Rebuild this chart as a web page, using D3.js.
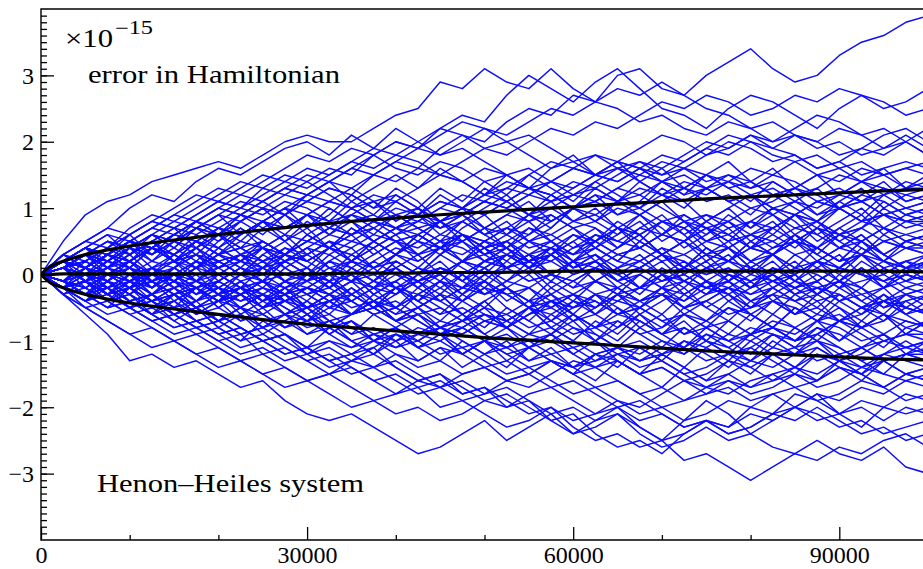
<!DOCTYPE html>
<html>
<head>
<meta charset="utf-8">
<script src="https://cdn.jsdelivr.net/npm/d3@7"></script>
<style>
  body { margin: 0; background: #fff; }
  svg { display: block; }
</style>
</head>
<body>
<script>
// sample times of every run
var times = [0,2500,5000,7500,10000,12500,15000,17500,20000,22500,25000,27500,30000,32500,35000,37500,40000,42500,45000,47500,
             50000,52500,55000,57500,60000,62500,65000,67500,70000,72500,75000,77500,80000,82500,85000,87500,90000,92500,95000,97500,100000];

// error in Hamiltonian of each run, in units of 1e-16
var runs = [
  [0,5,9,11,12,14,15,16,17,16,18,20,21,20,20,22,24,25,29,28,31,29,28,31,28,26,30,31,28,27,30,32,34,31,29,30,33,35,36,38,39],
  [0,2,4,3,6,8,7,9,11,10,13,12,14,16,15,18,20,19,22,24,23,27,30,28,26,29,31,28,25,24,22,25,27,26,24,22,25,27,26,24,25],
  [0,-3,-6,-9,-13,-12,-14,-13,-15,-17,-16,-19,-21,-22,-21,-23,-25,-27,-26,-24,-22,-25,-23,-21,-24,-22,-20,-23,-25,-22,-19,-21,-24,-22,-20,-18,-21,-23,-20,-18,-19],
  [0,-1,-3,-2,-5,-7,-6,-8,-10,-9,-12,-11,-13,-15,-14,-16,-18,-17,-20,-19,-21,-23,-22,-20,-23,-25,-24,-26,-25,-28,-27,-29,-31,-29,-27,-28,-26,-27,-25,-24,-26],
  [0,1,-1,-3,-2,-4,-6,-5,-7,-9,-8,-10,-12,-11,-13,-12,-14,-16,-15,-17,-19,-18,-20,-22,-24,-23,-21,-24,-26,-25,-23,-25,-24,-26,-27,-25,-27,-28,-26,-29,-30],
  [0,-2,-1,-4,-3,-5,-4,-7,-9,-8,-10,-9,-12,-14,-13,-11,-14,-16,-15,-18,-17,-20,-19,-22,-21,-24,-26,-25,-27,-24,-22,-23,-20,-21,-18,-19,-21,-20,-22,-20,-21],
  [0,2,1,3,5,4,6,8,7,9,8,10,12,11,13,15,14,16,15,17,19,18,20,22,21,23,22,24,26,25,27,26,24,25,27,26,28,27,25,26,28],
  [0,3,5,7,10,12,11,14,16,15,17,19,20,18,21,19,22,20,18,19,17,15,16,14,12,13,11,12,10,8,9,7,8,10,9,11,10,8,9,7,8],
  [0,1,3,2,4,3,5,7,6,8,10,9,11,13,12,15,17,16,19,21,20,23,25,24,27,26,28,27,29,27,25,24,22,23,21,20,22,21,19,20,18],
  [0,-2,-5,-7,-9,-11,-10,-12,-14,-13,-15,-17,-16,-18,-20,-19,-21,-20,-22,-21,-19,-20,-18,-17,-19,-21,-20,-22,-21,-23,-22,-24,-23,-21,-22,-20,-22,-24,-23,-25,-24],
  [0,1,-1,0,2,4,3,5,4,6,8,7,9,11,10,12,11,13,15,14,12,13,15,17,16,18,17,19,21,20,18,19,21,20,22,24,23,21,22,20,22],
  [0,3,5,4,7,9,8,10,12,14,13,15,14,12,10,11,9,10,8,9,11,10,12,14,13,15,14,16,15,17,19,18,20,19,21,20,18,19,21,22,20],
  [0,-2,-1,-3,-2,0,-1,1,3,2,4,3,5,7,6,8,10,9,11,10,12,14,13,11,12,14,16,15,17,16,18,20,19,17,18,16,17,19,18,20,18],
  [0,2,4,6,5,7,9,11,13,12,14,16,18,17,19,18,16,15,17,16,14,15,13,14,16,15,17,16,14,15,13,14,16,15,17,18,16,17,15,16,17],
  [0,1,0,2,1,-1,0,-2,-1,1,0,2,4,3,5,4,6,8,7,9,11,10,12,11,13,15,14,16,18,17,19,21,20,18,17,15,16,14,15,16,15],
  [0,-1,1,3,2,4,6,5,3,4,2,3,5,4,6,8,7,9,8,10,9,11,13,12,10,11,13,12,14,16,15,13,14,12,13,15,14,16,15,13,14],
  [0,2,1,3,5,7,6,8,10,9,11,13,15,14,16,18,20,19,21,23,22,20,21,19,17,18,16,17,15,16,14,15,13,14,12,13,15,14,12,13,13],
  [0,-2,-4,-3,-5,-4,-6,-5,-3,-4,-2,-3,-1,0,-1,1,3,2,4,6,5,7,6,8,10,9,11,10,12,11,13,15,14,12,13,11,12,14,13,11,12],
  [0,2,3,5,4,6,5,7,9,8,10,9,11,10,8,9,7,8,10,12,11,13,12,14,16,15,17,16,14,13,15,14,12,13,11,10,12,11,13,12,11],
  [0,1,3,2,0,1,-1,-3,-2,-4,-3,-1,-2,0,2,1,3,5,4,6,5,7,9,8,10,12,11,13,12,14,13,11,12,10,9,11,10,12,11,9,10],
  [0,3,2,4,6,8,7,9,11,10,12,14,13,15,17,16,18,17,15,14,16,15,13,12,10,11,9,10,8,9,7,8,6,7,9,8,10,11,9,8,9],
  [0,-1,-2,0,-1,1,0,-2,-1,-3,-2,-4,-3,-5,-4,-2,-3,-1,0,2,1,3,2,4,3,5,7,6,8,7,9,8,10,9,7,8,6,7,9,8,8],
  [0,2,4,3,5,4,2,3,1,2,4,3,5,7,6,8,7,9,11,10,12,11,9,10,8,9,7,6,8,7,5,6,8,7,9,8,6,7,5,6,7],
  [0,-2,-1,-3,-5,-4,-6,-8,-7,-9,-8,-6,-7,-5,-6,-4,-2,-3,-1,-2,0,1,-1,0,2,1,3,2,4,3,5,4,6,5,7,6,4,5,7,5,6],
  [0,1,3,5,4,6,8,7,9,11,10,12,11,13,12,10,11,9,7,8,6,7,5,6,4,5,3,4,6,5,7,6,4,5,3,4,6,5,7,6,5],
  [0,-1,0,-2,-1,1,2,0,1,3,2,4,3,1,2,0,1,-1,0,2,1,3,5,4,6,5,3,4,2,3,1,2,4,3,5,4,2,3,5,4,4],
  [0,2,1,3,2,4,6,5,7,6,8,10,9,11,10,8,9,7,8,6,4,5,3,4,2,3,1,2,0,1,3,2,4,3,1,2,4,3,5,4,3],
  [0,-2,-3,-1,-2,-4,-3,-5,-7,-6,-8,-7,-9,-8,-10,-9,-11,-10,-8,-9,-7,-8,-6,-4,-5,-3,-4,-2,-3,-1,-2,0,-1,1,0,2,1,3,2,1,2],
  [0,1,2,0,1,-1,0,2,1,3,4,2,3,5,4,6,5,3,4,2,3,1,2,0,-1,1,0,-2,-1,1,0,2,1,-1,0,2,1,0,2,1,1],
  [0,2,4,3,5,7,9,8,10,12,11,13,12,14,13,11,12,10,8,9,7,6,4,5,3,4,2,1,3,2,0,1,-1,0,-2,-1,1,0,-1,1,0],
  [0,-1,-3,-2,-4,-3,-1,-2,0,2,1,3,2,4,3,5,7,6,8,10,9,11,13,12,14,13,15,17,16,18,20,19,21,19,18,16,17,15,16,17,16],
  [0,3,5,7,6,8,10,12,11,13,15,14,16,15,17,19,18,20,22,21,19,20,18,16,17,15,16,14,12,13,11,12,10,11,13,12,10,11,9,10,11],
  [0,1,-1,-2,0,-1,-3,-2,-4,-3,-5,-4,-2,-3,-1,-2,0,-1,1,0,2,1,3,2,4,6,5,7,6,8,7,5,6,4,5,7,6,8,7,5,6],
  [0,-2,0,1,-1,0,2,1,3,5,4,6,5,7,9,8,6,7,5,6,4,5,7,6,8,7,5,4,6,5,3,4,2,3,5,4,2,3,1,2,3],
  [0,2,1,3,5,4,6,8,10,9,11,13,12,14,16,15,17,19,18,20,22,21,23,25,24,26,25,23,24,22,21,23,22,20,21,19,20,18,19,21,19],
  [0,-1,1,0,2,4,3,1,2,0,1,-1,0,2,1,3,5,4,6,5,7,9,8,10,12,11,13,15,14,12,13,11,12,10,11,9,10,8,9,10,9],
  [0,1,3,2,4,3,5,4,2,3,1,2,4,6,5,7,9,8,10,9,11,10,8,9,7,8,10,9,11,13,12,14,13,15,14,12,13,11,12,14,13],
  [0,-1,-3,-2,-4,-6,-5,-7,-6,-8,-10,-9,-11,-13,-12,-14,-13,-15,-17,-16,-18,-17,-19,-21,-20,-22,-21,-23,-25,-24,-22,-23,-21,-22,-20,-21,-23,-22,-24,-23,-22],
  [0,-3,-5,-4,-6,-8,-10,-9,-11,-13,-12,-14,-16,-15,-17,-19,-18,-16,-17,-15,-14,-16,-15,-13,-14,-12,-13,-15,-14,-16,-18,-17,-19,-18,-20,-22,-21,-19,-20,-21,-20],
  [0,1,0,2,1,-1,0,-2,-4,-3,-5,-4,-6,-8,-7,-9,-8,-10,-12,-11,-13,-15,-14,-16,-18,-17,-19,-21,-20,-22,-21,-19,-20,-18,-17,-19,-18,-16,-17,-19,-18],
  [0,-2,-4,-6,-5,-7,-9,-8,-10,-12,-11,-13,-12,-10,-11,-9,-10,-8,-9,-11,-10,-12,-14,-13,-15,-17,-16,-18,-20,-19,-17,-18,-16,-15,-17,-16,-14,-15,-17,-15,-16],
  [0,2,1,3,2,0,1,-1,0,-2,-1,-3,-5,-4,-6,-5,-7,-9,-8,-10,-12,-11,-13,-12,-14,-13,-11,-12,-10,-11,-13,-12,-14,-16,-15,-17,-16,-14,-15,-16,-15],
  [0,-1,-2,-4,-3,-5,-4,-6,-5,-7,-6,-8,-7,-9,-11,-10,-12,-14,-13,-15,-14,-16,-15,-13,-14,-12,-11,-13,-12,-14,-16,-15,-17,-16,-14,-15,-13,-14,-12,-13,-14],
  [0,-2,-1,-3,-5,-7,-6,-8,-7,-5,-6,-4,-5,-3,-4,-6,-5,-7,-9,-8,-10,-9,-11,-10,-12,-14,-13,-15,-14,-16,-15,-13,-14,-12,-11,-13,-12,-14,-13,-12,-13],
  [0,1,-1,0,-2,-1,-3,-2,-4,-3,-1,-2,0,-1,-3,-5,-4,-6,-5,-7,-6,-8,-10,-9,-11,-10,-12,-11,-13,-15,-14,-12,-13,-11,-12,-10,-11,-13,-12,-11,-12],
  [0,-3,-5,-7,-9,-8,-10,-12,-11,-13,-15,-14,-16,-15,-13,-14,-12,-13,-11,-12,-10,-11,-9,-10,-8,-9,-11,-10,-12,-11,-9,-10,-8,-9,-11,-10,-12,-11,-13,-12,-11],
  [0,2,3,1,2,0,-1,1,0,-2,-1,-3,-2,-4,-3,-1,-2,-4,-6,-5,-7,-6,-8,-7,-9,-8,-6,-7,-9,-8,-10,-12,-11,-9,-10,-8,-9,-11,-10,-9,-10],
  [0,-1,-3,-5,-4,-6,-8,-7,-9,-8,-10,-12,-11,-13,-15,-14,-16,-18,-17,-19,-18,-16,-17,-15,-13,-14,-12,-13,-11,-12,-10,-11,-9,-8,-10,-9,-7,-8,-10,-9,-9],
  [0,1,3,2,4,6,5,7,6,4,5,3,2,4,3,1,2,0,1,-1,-3,-2,-4,-3,-5,-4,-6,-5,-7,-6,-8,-7,-9,-8,-10,-9,-7,-8,-6,-7,-8],
  [0,-2,-1,-3,-2,-4,-3,-1,-2,0,-1,-3,-2,-4,-6,-5,-7,-6,-8,-7,-5,-6,-4,-5,-3,-4,-6,-5,-7,-9,-8,-10,-9,-7,-8,-6,-7,-5,-6,-8,-7],
  [0,-1,0,-2,-4,-3,-5,-7,-6,-8,-10,-9,-11,-10,-12,-11,-9,-10,-8,-9,-7,-8,-6,-5,-7,-6,-4,-5,-3,-4,-2,-3,-5,-4,-6,-5,-7,-6,-4,-5,-6],
  [0,2,1,3,5,4,6,5,3,4,2,0,1,-1,0,-2,-1,1,0,-2,-1,-3,-2,-4,-3,-1,-2,-4,-3,-5,-4,-6,-5,-3,-4,-2,-3,-5,-4,-6,-5],
  [0,-2,-4,-3,-1,-2,0,-1,-3,-2,-4,-6,-5,-7,-6,-4,-5,-3,-4,-2,-3,-1,-2,0,-1,-3,-2,-4,-3,-5,-4,-2,-3,-1,-2,-4,-3,-5,-4,-3,-4],
  [0,1,2,4,3,5,7,6,8,10,9,11,10,8,9,7,5,6,4,5,3,4,2,3,1,2,0,1,-1,0,-2,-1,-3,-2,-4,-3,-1,-2,-4,-2,-3],
  [0,-1,1,0,-2,-1,-3,-2,-4,-5,-3,-4,-2,-3,-1,0,-2,-1,1,0,2,1,-1,0,-2,-1,-3,-2,0,-1,1,0,-2,-1,-3,-2,-1,-3,-2,-1,-2],
  [0,-2,-3,-5,-4,-6,-8,-7,-9,-11,-10,-12,-11,-13,-12,-10,-11,-9,-10,-8,-6,-7,-5,-6,-4,-5,-3,-4,-2,-3,-1,-2,0,-1,1,0,-2,-1,0,-2,-1],
  [0,1,-1,-3,-2,-4,-3,-5,-4,-2,-3,-5,-7,-6,-8,-10,-9,-11,-10,-12,-14,-13,-15,-17,-16,-18,-20,-19,-21,-23,-22,-24,-23,-21,-20,-18,-19,-17,-18,-16,-17],
  [0,-2,-1,1,0,2,1,3,2,0,1,-1,-3,-2,-4,-6,-5,-7,-9,-8,-10,-12,-11,-13,-15,-14,-16,-18,-17,-19,-18,-16,-17,-15,-14,-12,-13,-11,-13,-12,-12],
  [0,2,4,3,5,4,2,3,1,-1,0,-2,-1,-3,-5,-4,-6,-5,-3,-4,-2,-3,-5,-4,-6,-8,-7,-9,-8,-6,-7,-5,-6,-4,-5,-7,-6,-8,-7,-5,-6],
  [0,-1,-3,-2,-4,-3,-5,-4,-2,-3,-1,0,-1,1,0,2,4,3,5,4,2,3,1,2,0,1,-1,0,-2,-1,-3,-2,-4,-3,-1,-2,-4,-3,-5,-4,-3],
  [0,-3,-2,-4,-6,-5,-7,-9,-8,-10,-9,-11,-13,-12,-14,-16,-15,-17,-16,-18,-17,-19,-21,-20,-22,-21,-19,-20,-18,-16,-17,-15,-13,-14,-12,-11,-13,-12,-10,-11,-10],
  [0,1,0,-1,1,0,-2,-1,-3,-2,-4,-3,-5,-4,-6,-5,-7,-6,-8,-7,-9,-11,-10,-12,-11,-13,-12,-14,-13,-15,-17,-16,-18,-17,-15,-16,-14,-15,-13,-15,-14],
  [0,-1,-2,0,-1,-3,-2,-4,-3,-5,-7,-6,-8,-7,-9,-8,-10,-9,-7,-8,-6,-7,-9,-8,-10,-12,-11,-13,-12,-10,-11,-9,-10,-8,-9,-7,-8,-10,-9,-7,-8],
  [0,2,1,3,2,4,3,5,7,6,8,7,9,8,6,7,5,6,4,3,5,4,2,3,1,2,0,1,-1,0,-2,-1,1,0,-2,-1,1,0,-1,0,-1],
  [0,2,0,3,1,4,2,5,3,1,4,2,0,3,1,-1,2,0,3,5,2,4,1,3,6,4,2,5,3,1,4,2,5,3,6,4,2,5,3,1,3],
  [0,-2,1,-1,-3,0,-2,-4,-1,-3,-5,-2,-4,-6,-3,-5,-2,-4,-1,-3,0,-2,-4,-1,-3,-5,-2,-4,-6,-3,-5,-7,-4,-6,-3,-5,-2,-4,-6,-3,-5],
  [0,3,1,4,6,3,5,8,6,9,7,5,8,6,9,11,8,10,7,9,6,8,5,7,10,8,11,9,6,8,5,7,4,6,9,7,10,8,11,9,8],
  [0,-1,-3,0,-2,1,-1,2,0,-2,1,-1,-3,-1,-4,-2,-5,-3,-1,-4,-2,-5,-7,-4,-6,-3,-5,-8,-6,-9,-7,-4,-6,-8,-5,-7,-10,-8,-6,-9,-7],
  [0,1,-2,0,2,-1,1,3,0,2,4,1,3,5,2,4,6,3,5,2,4,1,3,0,2,-1,1,3,0,2,-1,1,-2,0,2,-1,1,3,0,2,0],
  [0,-3,-1,-4,-2,-5,-3,-6,-4,-7,-5,-8,-6,-9,-7,-10,-8,-11,-9,-12,-10,-8,-11,-9,-7,-10,-8,-6,-9,-7,-10,-12,-9,-11,-8,-10,-13,-11,-9,-12,-10],
  [0,2,4,1,3,5,2,4,7,5,8,6,9,7,10,8,11,9,12,10,13,11,9,12,10,13,11,14,12,10,13,11,9,12,10,8,11,9,12,10,11],
  [0,-1,1,-2,0,-3,-1,1,-2,0,2,-1,1,-2,0,-3,-1,-4,-2,0,-3,-1,1,-2,0,2,-1,1,3,0,2,-1,1,-2,0,-3,-1,1,-2,0,-1],
  [0,2,-1,1,3,5,2,4,1,3,0,2,4,1,-1,2,0,-2,1,-1,2,4,1,3,5,7,4,6,3,5,8,6,4,7,5,3,6,4,2,5,4],
  [0,-2,-4,-1,-3,-6,-4,-2,-5,-3,-1,-4,-2,0,-3,-1,1,-2,0,-3,-5,-2,-4,-7,-5,-3,-6,-4,-2,-5,-3,-1,-4,-2,0,-3,-1,-4,-2,-5,-3],
  [0,1,3,5,3,6,4,7,9,6,8,10,7,9,12,10,13,11,8,10,7,9,11,8,10,12,9,11,14,12,15,13,11,14,12,9,11,13,10,12,13],
  [0,-1,-3,-5,-2,-4,-7,-5,-8,-10,-7,-9,-11,-8,-10,-12,-9,-11,-13,-10,-12,-14,-11,-13,-15,-12,-14,-11,-13,-10,-12,-14,-11,-13,-15,-12,-14,-16,-13,-15,-14],
  [0,2,1,-1,1,-2,0,2,-1,1,-1,-3,0,-2,1,-1,2,0,3,1,-1,2,0,3,5,2,4,6,3,5,7,4,6,8,5,7,4,6,3,5,6],
  [0,-2,0,-3,-1,-4,-2,-5,-3,-6,-4,-2,-5,-3,-1,-4,-2,-5,-7,-4,-6,-8,-5,-7,-4,-6,-3,-5,-2,-4,-1,-3,-5,-2,-4,-6,-3,-5,-7,-4,-6],
  [0,3,1,3,5,2,4,2,5,7,4,6,3,5,2,4,1,3,0,2,4,1,3,5,2,4,7,5,8,6,3,5,2,4,6,3,1,4,2,0,2],
  [0,-1,2,0,-2,1,-1,-3,0,-2,-4,-1,-3,-5,-2,-4,-6,-3,-5,-7,-4,-2,-5,-3,-6,-8,-5,-7,-9,-6,-8,-5,-7,-4,-6,-3,-5,-7,-4,-6,-8],
  [0,1,-1,2,4,1,3,6,4,7,5,3,6,4,2,5,3,6,8,5,7,4,6,9,7,5,8,6,3,5,2,4,1,3,5,2,4,6,3,5,4],
  [0,-2,-1,-3,0,-2,1,-1,2,0,3,1,-1,2,0,-2,1,-1,-3,0,-2,1,3,0,2,-1,1,-2,0,-3,-1,-4,-2,0,-3,-1,-4,-2,-5,-3,-2],
  [0,2,4,6,3,5,7,4,6,8,10,7,9,6,8,5,7,9,6,8,10,12,9,11,8,10,7,9,11,8,6,9,7,10,8,5,7,9,6,8,7],
  [0,-1,-3,-1,-4,-6,-3,-5,-8,-6,-9,-7,-5,-8,-6,-4,-7,-5,-3,-6,-4,-7,-9,-6,-8,-10,-7,-9,-11,-8,-10,-7,-9,-6,-8,-10,-7,-9,-11,-8,-9],
  [0,1,-1,1,3,0,2,-1,1,3,1,4,2,0,3,1,-2,0,2,-1,1,-2,0,-3,-1,1,-2,0,2,-1,1,-1,2,0,3,1,-1,2,0,2,1],
  [0,-2,1,3,1,4,2,5,3,6,8,5,7,4,6,3,5,2,4,6,3,5,2,4,1,3,0,2,4,1,3,0,-2,1,-1,-3,0,-2,1,-1,0],
  [0,2,0,-2,0,-3,-5,-2,-4,-1,-3,-5,-7,-4,-6,-3,-5,-2,-4,-6,-8,-5,-7,-9,-6,-8,-10,-7,-9,-11,-8,-10,-12,-9,-11,-8,-10,-7,-9,-11,-10],
  [0,1,3,1,4,2,5,3,6,4,7,9,6,8,11,9,12,10,13,11,14,12,15,13,11,14,12,10,13,11,8,10,12,9,11,13,10,12,14,11,12],
  [0,-2,-4,-2,-5,-3,-1,-4,-2,-5,-3,-6,-4,-7,-9,-6,-8,-11,-9,-12,-10,-13,-11,-9,-12,-10,-13,-15,-12,-14,-11,-13,-10,-12,-14,-11,-13,-15,-12,-10,-12],
  [0,1,2,0,-1,1,-1,1,3,1,-1,2,0,-2,0,-3,-1,1,-1,2,0,3,1,-1,2,4,2,5,3,1,4,2,0,3,1,4,2,5,3,1,2],
  [0,-1,-2,-4,-1,-3,0,-2,-4,-2,-5,-3,-6,-4,-2,-5,-3,-1,-4,-2,1,-1,2,0,-2,1,-1,-3,0,-2,1,3,0,2,-1,1,3,0,-2,1,-1],
  [0,2,3,1,4,6,4,7,5,8,6,9,7,10,8,6,9,7,5,8,6,4,7,5,3,6,4,7,9,6,8,10,7,9,6,8,5,7,10,8,9],
  [0,-2,-1,-3,-5,-3,-6,-4,-7,-5,-3,-6,-4,-1,-3,-5,-2,-4,-6,-3,-1,-4,-2,-5,-3,-6,-8,-5,-3,-6,-4,-2,-5,-3,-6,-4,-7,-5,-3,-6,-4],
  [0,1,3,0,2,-1,1,4,2,0,3,5,2,4,7,5,3,6,4,2,5,3,1,4,2,5,7,4,6,9,7,5,8,6,4,7,5,3,6,4,3],
  [0,-1,1,-1,-3,-1,-4,-2,-5,-3,-6,-8,-6,-9,-7,-10,-8,-6,-9,-7,-5,-8,-6,-4,-7,-5,-3,-6,-4,-2,-5,-3,-6,-8,-5,-7,-4,-6,-3,-5,-6],
  [0,2,1,3,1,4,2,4,6,3,5,3,1,4,2,5,7,5,8,6,4,6,9,7,10,8,6,9,7,4,6,8,5,7,9,6,8,10,7,9,10],
  [0,-2,0,-1,1,-2,0,-3,-1,1,-1,2,0,-2,1,-1,-3,0,-2,-4,-1,-3,-5,-2,-4,-1,-3,0,-2,1,-1,-3,-1,-4,-2,0,-2,1,-1,-3,-2],
  [0,1,-1,-3,-2,-4,-2,-5,-7,-5,-8,-6,-9,-7,-10,-12,-10,-13,-11,-14,-12,-10,-13,-11,-14,-16,-13,-15,-17,-14,-16,-13,-15,-12,-14,-16,-13,-15,-17,-15,-16],
  [0,2,4,2,5,3,6,8,6,9,11,9,12,14,11,13,15,13,16,14,12,15,13,16,18,15,17,14,16,13,15,17,14,16,13,15,12,14,16,13,15],
  [0,-1,-3,-2,0,-2,1,-1,-3,0,-2,1,-1,2,4,1,3,5,3,6,4,2,5,3,0,2,-1,1,3,0,2,4,1,3,0,2,-1,1,-2,0,-1],
  [0,1,3,1,-1,1,-2,0,-3,-1,-4,-2,-5,-3,-6,-4,-7,-5,-8,-6,-9,-7,-5,-8,-6,-9,-11,-8,-10,-12,-9,-11,-13,-10,-12,-9,-11,-13,-15,-12,-13],
  [0,2,1,-1,2,0,3,1,4,2,5,3,6,4,7,5,3,6,4,7,9,6,8,5,7,4,6,8,5,7,4,2,5,3,6,4,7,5,2,4,5],
  [0,-2,-3,-1,-3,-5,-3,-6,-4,-2,-5,-3,-6,-8,-6,-4,-7,-5,-3,-6,-4,-7,-5,-8,-10,-7,-9,-6,-8,-5,-7,-9,-6,-8,-10,-7,-5,-8,-6,-9,-7],
  [0,1,2,4,2,5,3,1,4,2,0,3,1,-1,2,0,3,1,4,6,3,5,2,4,1,3,0,-2,1,-1,-3,0,-2,1,-1,2,0,3,1,-1,1]
];

// mean and mean +/- standard deviation (black curves), units of 1e-15
var envTimes = [0,1000,2500,5000,7500,10000,15000,20000,25000,30000,35000,40000,45000,50000,55000,60000,65000,70000,75000,80000,85000,90000,95000,100000];
var envUpper = [0,0.12,0.2,0.3,0.37,0.43,0.52,0.6,0.67,0.74,0.8,0.85,0.9,0.94,0.98,1.02,1.06,1.1,1.14,1.17,1.2,1.23,1.26,1.28];
var envMean  = [0,0,0.01,0.01,0.01,0.01,0.01,0.01,0.01,0.01,0.02,0.02,0.03,0.03,0.04,0.05,0.05,0.05,0.05,0.05,0.05,0.05,0.05,0.04];
var envLower = [0,-0.12,-0.2,-0.3,-0.37,-0.43,-0.52,-0.6,-0.68,-0.75,-0.8,-0.85,-0.9,-0.95,-0.99,-1.03,-1.07,-1.11,-1.15,-1.18,-1.21,-1.24,-1.27,-1.29];

var xTicks = [0, 30000, 60000, 90000];
var xMinorTicks = [10000, 20000, 40000, 50000, 70000, 80000];
var yTicks = [-3, -2, -1, 0, 1, 2, 3];

var width = 923,
    height = 569,
    plot = {left: 41, right: 928, top: 9, bottom: 540};

var font = "'Liberation Serif', 'Times New Roman', serif";

var svg = d3.select("body")
    .append("svg")
        .attr("width", width)
        .attr("height", height)
        .style("background", "#fff");

var x = d3.scaleLinear()
    .domain([0, 100000])
    .range([plot.left, plot.right]);

var y = d3.scaleLinear()
    .domain([-4, 4])
    .range([plot.bottom, plot.top]);

svg.append("clipPath")
    .attr("id", "plotclip")
    .append("rect")
        .attr("x", plot.left)
        .attr("y", plot.top)
        .attr("width", plot.right - plot.left)
        .attr("height", plot.bottom - plot.top);

var runLine = d3.line()
    .x(function(d, i) { return x(times[i]); })
    .y(function(d) { return y(d / 10); });

svg.append("g")
    .attr("clip-path", "url(#plotclip)")
    .selectAll("path")
    .data(runs)
    .enter()
    .append("path")
        .attr("d", runLine)
        .attr("fill", "none")
        .attr("stroke", "#0c0cff")
        .attr("stroke-width", 1.45)
        .attr("stroke-linejoin", "round");

var envLine = d3.line()
    .x(function(d, i) { return x(envTimes[i]); })
    .y(function(d) { return y(d); })
    .curve(d3.curveMonotoneX);

svg.append("g")
    .attr("clip-path", "url(#plotclip)")
    .selectAll("path")
    .data([envUpper, envMean, envLower])
    .enter()
    .append("path")
        .attr("d", envLine)
        .attr("fill", "none")
        .attr("stroke", "#000")
        .attr("stroke-width", 3.2)
        .attr("stroke-linecap", "round");

// y axis, ticks pointing into the plot
var yMinor = svg.append("g")
    .attr("transform", "translate(" + plot.left + ",0)")
    .call(d3.axisLeft(y).tickValues(d3.range(-39, 40).map(function(v) { return v / 10; }))
        .tickSize(-6).tickSizeOuter(0).tickFormat(""));

var yAxis = svg.append("g")
    .attr("transform", "translate(" + plot.left + ",0)")
    .call(d3.axisLeft(y).tickValues(yTicks).tickSize(-13).tickSizeOuter(0).tickPadding(7));

// x axis
var xMinor = svg.append("g")
    .attr("transform", "translate(0," + plot.bottom + ")")
    .call(d3.axisBottom(x).tickValues(xMinorTicks).tickSize(-5).tickSizeOuter(0).tickFormat(""));

var xAxis = svg.append("g")
    .attr("transform", "translate(0," + plot.bottom + ")")
    .call(d3.axisBottom(x).tickValues(xTicks).tickSize(-13).tickSizeOuter(0).tickPadding(6).tickFormat(d3.format("d")));

svg.selectAll(".domain").remove();
svg.selectAll(".tick line").attr("stroke", "#000").attr("stroke-width", 1.3);
svg.selectAll(".tick text")
    .attr("font-family", font)
    .attr("font-size", 24)
    .attr("fill", "#000");
yAxis.selectAll(".tick text").attr("dy", "0.34em");

// frame
svg.append("path")
    .attr("d", "M" + width + "," + plot.top + "H" + plot.left + "V" + plot.bottom + "H" + width)
    .attr("fill", "none")
    .attr("stroke", "#000")
    .attr("stroke-width", 1.4);

// labels
svg.append("text")
    .attr("x", 65)
    .attr("y", 47)
    .attr("font-family", font)
    .attr("font-size", 25)
    .attr("textLength", 48)
    .attr("lengthAdjust", "spacingAndGlyphs")
    .text("×10");

svg.append("text")
    .attr("x", 115)
    .attr("y", 34)
    .attr("font-family", font)
    .attr("font-size", 18)
    .attr("textLength", 38)
    .attr("lengthAdjust", "spacingAndGlyphs")
    .text("−15");

svg.append("text")
    .attr("x", 88)
    .attr("y", 83)
    .attr("font-family", font)
    .attr("font-size", 25)
    .attr("textLength", 252)
    .attr("lengthAdjust", "spacingAndGlyphs")
    .text("error in Hamiltonian");

svg.append("text")
    .attr("x", 97)
    .attr("y", 492)
    .attr("font-family", font)
    .attr("font-size", 25)
    .attr("textLength", 267)
    .attr("lengthAdjust", "spacingAndGlyphs")
    .text("Henon–Heiles system");
</script>
</body>
</html>
